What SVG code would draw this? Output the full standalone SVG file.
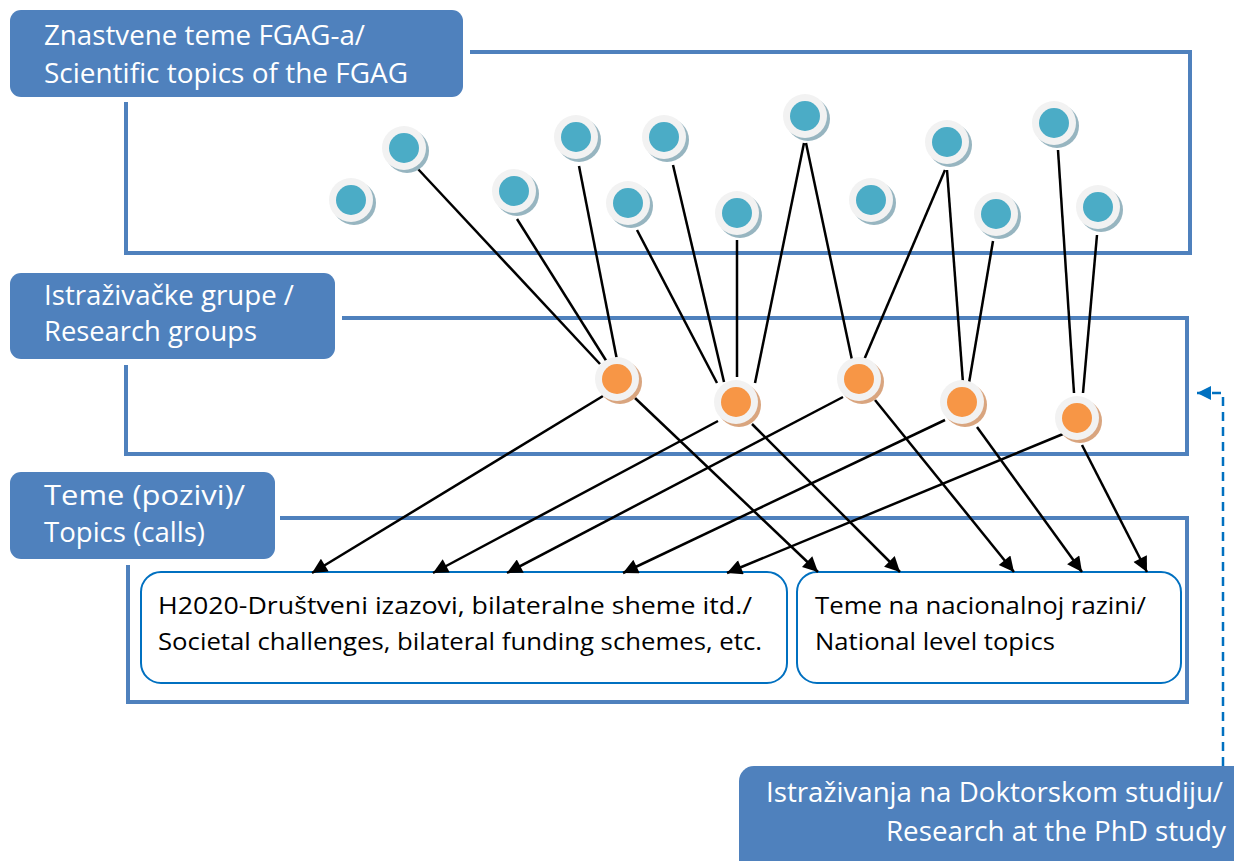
<svg xmlns="http://www.w3.org/2000/svg" width="1234" height="861" viewBox="0 0 1234 861">
<style>
.frame{fill:none;stroke:#4F81BD;stroke-width:4}
.lbl{fill:#4F81BD}
.lt{font-family:"Open Sans","Liberation Sans",sans-serif;font-size:27.5px;fill:#FFFFFF}
.bt{font-family:"Open Sans","Liberation Sans",sans-serif;font-size:24px;fill:#000000}
.box{fill:#FFFFFF;stroke:#0070C0;stroke-width:2}
.ln{stroke:#000;stroke-width:2.5;fill:none}
.ar{stroke:#000;stroke-width:2.5;fill:none;marker-end:url(#ah)}
.sht{fill:#97B5C0}
.sho{fill:#D9A57F}
.ring{fill:#F2F2F2}
.teal{fill:#4BACC6}
.orng{fill:#F79646}
</style>
<defs>
<marker id="ah" viewBox="0 0 10 10" refX="10" refY="5" markerWidth="17" markerHeight="15" markerUnits="userSpaceOnUse" orient="auto">
<path d="M0,0 L10,5 L0,10 z" fill="#000"/>
</marker>
<marker id="ahb" viewBox="0 0 10 10" refX="10" refY="5" markerWidth="16" markerHeight="14" markerUnits="userSpaceOnUse" orient="auto">
<path d="M0,0 L10,5 L0,10 z" fill="#0070C0"/>
</marker>
</defs>
<rect width="1234" height="861" fill="#FFFFFF"/>

<g id="frames">
<polyline class="frame" points="470,52 1190,52 1190,253 126,253 126,102"/>
<polyline class="frame" points="342,318 1187,318 1187,454 126,454 126,365"/>
<polyline class="frame" points="280,518 1187,518 1187,702 128,702 128,565"/>
</g>

<g id="label-topics">
<rect class="lbl" x="10" y="10" width="453" height="87" rx="11"/>
<text class="lt" x="44" y="45" textLength="321" lengthAdjust="spacingAndGlyphs">Znastvene teme FGAG-a/</text>
<text class="lt" x="44" y="83" textLength="364" lengthAdjust="spacingAndGlyphs">Scientific topics of the FGAG</text>
</g>
<g id="label-groups">
<rect class="lbl" x="10" y="273" width="325" height="86" rx="11"/>
<text class="lt" x="44" y="305" textLength="250" lengthAdjust="spacingAndGlyphs">Istraživačke grupe /</text>
<text class="lt" x="44" y="341" textLength="213" lengthAdjust="spacingAndGlyphs">Research groups</text>
</g>
<g id="label-calls">
<rect class="lbl" x="10" y="472" width="265" height="87" rx="11"/>
<text class="lt" x="44" y="505" textLength="201" lengthAdjust="spacingAndGlyphs">Teme (pozivi)/</text>
<text class="lt" x="44" y="542" textLength="161" lengthAdjust="spacingAndGlyphs">Topics (calls)</text>
</g>
<g id="label-phd">
<rect class="lbl" x="739" y="766" width="510" height="110" rx="15"/>
<text class="lt" x="766" y="802" textLength="457" lengthAdjust="spacingAndGlyphs">Istraživanja na Doktorskom studiju/</text>
<text class="lt" x="886" y="841" textLength="340" lengthAdjust="spacingAndGlyphs">Research at the PhD study</text>
</g>

<g id="box-h2020">
<rect class="box" x="141" y="572" width="646" height="111" rx="20"/>
<text class="bt" x="158" y="614" textLength="594" lengthAdjust="spacingAndGlyphs">H2020-Društveni izazovi, bilateralne sheme itd./</text>
<text class="bt" x="158" y="650" textLength="604" lengthAdjust="spacingAndGlyphs">Societal challenges, bilateral funding schemes, etc.</text>
</g>
<g id="box-national">
<rect class="box" x="797" y="572" width="384" height="111" rx="20"/>
<text class="bt" x="815" y="614" textLength="331" lengthAdjust="spacingAndGlyphs">Teme na nacionalnoj razini/</text>
<text class="bt" x="815" y="650" textLength="240" lengthAdjust="spacingAndGlyphs">National level topics</text>
</g>

<g id="connectors">
<line class="ln" x1="418" y1="169" x2="600" y2="364"/>
<line class="ln" x1="517" y1="219" x2="607" y2="362"/>
<line class="ln" x1="579" y1="166" x2="617" y2="360"/>
<line class="ln" x1="637" y1="230" x2="717" y2="383"/>
<line class="ln" x1="673" y1="165" x2="724" y2="382"/>
<line class="ln" x1="737" y1="240" x2="737" y2="377"/>
<line class="ln" x1="804" y1="143" x2="755" y2="383"/>
<line class="ln" x1="806" y1="143" x2="852" y2="360"/>
<line class="ln" x1="945" y1="170" x2="864" y2="360"/>
<line class="ln" x1="947" y1="170" x2="963" y2="383"/>
<line class="ln" x1="993" y1="241" x2="969" y2="383"/>
<line class="ln" x1="1058" y1="150" x2="1074" y2="393"/>
<line class="ln" x1="1097" y1="235" x2="1083" y2="393"/>

<line class="ar" x1="603" y1="396" x2="312" y2="573"/>
<line class="ar" x1="635" y1="398" x2="818" y2="572"/>
<line class="ar" x1="718" y1="421" x2="433" y2="573"/>
<line class="ar" x1="752" y1="424" x2="900" y2="572"/>
<line class="ar" x1="843" y1="397" x2="507" y2="573"/>
<line class="ar" x1="875" y1="400" x2="1014" y2="572"/>
<line class="ar" x1="945" y1="420" x2="623" y2="573"/>
<line class="ar" x1="977" y1="427" x2="1082" y2="572"/>
<line class="ar" x1="1063" y1="434" x2="727" y2="573"/>
<line class="ar" x1="1082" y1="445" x2="1147" y2="572"/>

<polyline points="1223,766 1223,393 1197,393" fill="none" stroke="#0070C0" stroke-width="2.5" stroke-dasharray="9,6" marker-end="url(#ahb)"/>
</g>

<g id="t1"><circle class="sht" cx="354" cy="203" r="22"/><circle class="ring" cx="351" cy="200" r="22"/><circle class="teal" cx="351" cy="200" r="15"/></g>
<g id="t2"><circle class="sht" cx="407" cy="151" r="22"/><circle class="ring" cx="404" cy="148" r="22"/><circle class="teal" cx="404" cy="148" r="15"/></g>
<g id="t3"><circle class="sht" cx="517" cy="194" r="22"/><circle class="ring" cx="514" cy="191" r="22"/><circle class="teal" cx="514" cy="191" r="15"/></g>
<g id="t4"><circle class="sht" cx="579" cy="140" r="22"/><circle class="ring" cx="576" cy="137" r="22"/><circle class="teal" cx="576" cy="137" r="15"/></g>
<g id="t5"><circle class="sht" cx="631" cy="206" r="22"/><circle class="ring" cx="628" cy="203" r="22"/><circle class="teal" cx="628" cy="203" r="15"/></g>
<g id="t6"><circle class="sht" cx="667" cy="140" r="22"/><circle class="ring" cx="664" cy="137" r="22"/><circle class="teal" cx="664" cy="137" r="15"/></g>
<g id="t7"><circle class="sht" cx="740" cy="216" r="22"/><circle class="ring" cx="737" cy="213" r="22"/><circle class="teal" cx="737" cy="213" r="15"/></g>
<g id="t8"><circle class="sht" cx="808" cy="119" r="22"/><circle class="ring" cx="805" cy="116" r="22"/><circle class="teal" cx="805" cy="116" r="15"/></g>
<g id="t9"><circle class="sht" cx="874" cy="203" r="22"/><circle class="ring" cx="871" cy="200" r="22"/><circle class="teal" cx="871" cy="200" r="15"/></g>
<g id="t10"><circle class="sht" cx="950" cy="145" r="22"/><circle class="ring" cx="947" cy="142" r="22"/><circle class="teal" cx="947" cy="142" r="15"/></g>
<g id="t11"><circle class="sht" cx="999" cy="217" r="22"/><circle class="ring" cx="996" cy="214" r="22"/><circle class="teal" cx="996" cy="214" r="15"/></g>
<g id="t12"><circle class="sht" cx="1057" cy="126" r="22"/><circle class="ring" cx="1054" cy="123" r="22"/><circle class="teal" cx="1054" cy="123" r="15"/></g>
<g id="t13"><circle class="sht" cx="1101" cy="210" r="22"/><circle class="ring" cx="1098" cy="207" r="22"/><circle class="teal" cx="1098" cy="207" r="15"/></g>

<g id="o1"><circle class="sho" cx="620" cy="382" r="22"/><circle class="ring" cx="617" cy="379" r="22"/><circle class="orng" cx="617" cy="379" r="15"/></g>
<g id="o2"><circle class="sho" cx="739" cy="405" r="22"/><circle class="ring" cx="736" cy="402" r="22"/><circle class="orng" cx="736" cy="402" r="15"/></g>
<g id="o3"><circle class="sho" cx="862" cy="382" r="22"/><circle class="ring" cx="859" cy="379" r="22"/><circle class="orng" cx="859" cy="379" r="15"/></g>
<g id="o4"><circle class="sho" cx="965" cy="405" r="22"/><circle class="ring" cx="962" cy="402" r="22"/><circle class="orng" cx="962" cy="402" r="15"/></g>
<g id="o5"><circle class="sho" cx="1080" cy="421" r="22"/><circle class="ring" cx="1077" cy="418" r="22"/><circle class="orng" cx="1077" cy="418" r="15"/></g>
</svg>
